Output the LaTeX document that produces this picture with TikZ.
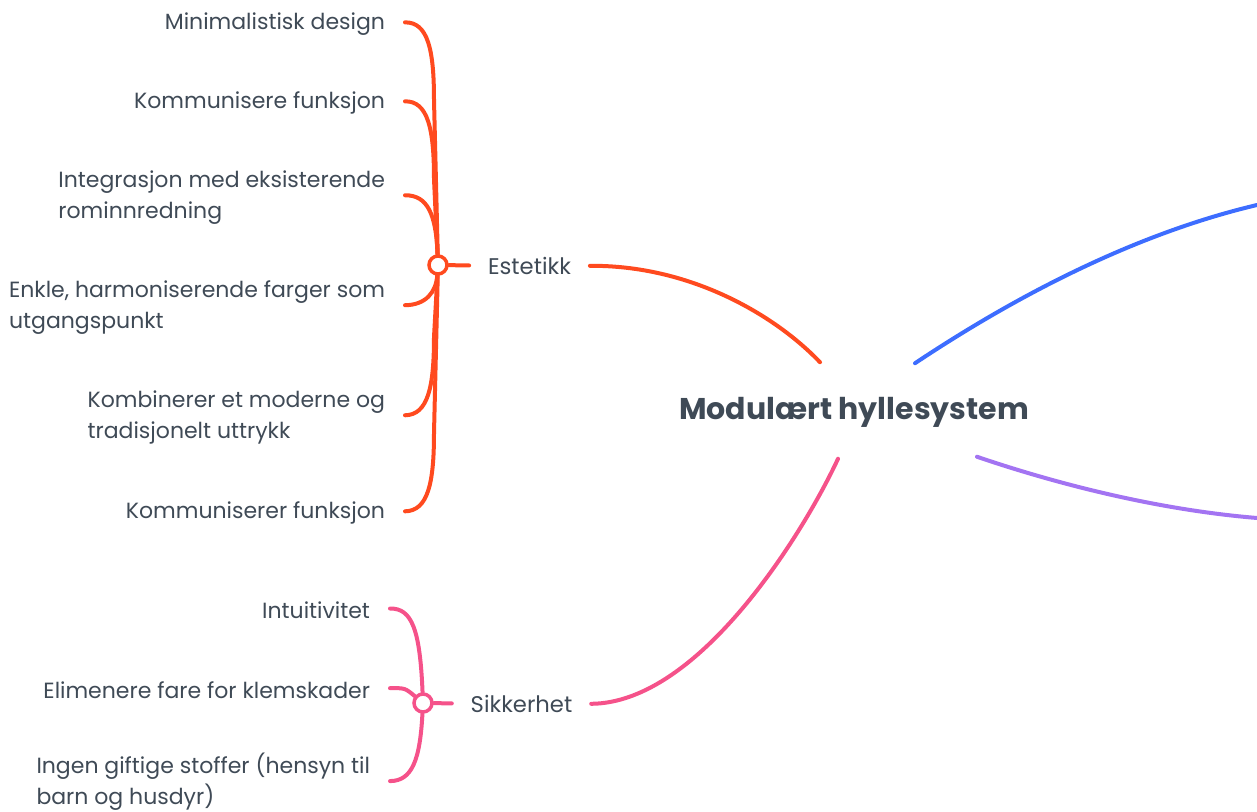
\documentclass[tikz,border=0pt]{standalone}
\usepackage{fontspec}
\setmainfont{Poppins}
\usetikzlibrary{calc}

\definecolor{txt}{HTML}{3F4A56}
\definecolor{cRed}{HTML}{FF4A1F}
\definecolor{cPink}{HTML}{F5528A}
\definecolor{cBlue}{HTML}{3D6DFF}
\definecolor{cPurple}{HTML}{A374F2}

\tikzset{
  leaf/.style={anchor=east, align=left, text=txt, inner xsep=0pt, inner ysep=2pt,
    outer xsep=15pt, yshift=-1.8pt, font=\fontsize{16.5}{23.25}\selectfont},
  branch/.style={text=txt, inner xsep=14pt, inner ysep=2pt, yshift=-1pt,
    font=\fontsize{17}{23.25}\selectfont},
  rootnode/.style={text=txt, inner sep=0pt, minimum height=71.25pt,
    font=\fontsize{22.5}{27}\selectfont\bfseries},
  hub/.style={circle, draw, fill=white, line width=2.6pt, minimum size=13.5pt, inner sep=0pt},
  wire/.style={line width=3pt, line cap=round}
}

\begin{document}
\begin{tikzpicture}[x=0.75pt, y=-0.75pt]
\useasboundingbox (0,0) rectangle (1257,812);

% central topic
\node[rootnode] (root) at (854,412.5) {Modulært hyllesystem};

% ---- Estetikk ----
\node[branch] (est) at (529.5,265) {Estetikk};
\node[hub, draw=cRed] (ej) at (438,265) {};
\node[leaf] (e1) at (405,22)  {Minimalistisk design};
\node[leaf] (e2) at (405,101) {Kommunisere funksjon};
\node[leaf] (e3) at (405,195) {Integrasjon med eksisterende\\rominnredning};
\node[leaf] (e4) at (405,305) {Enkle, harmoniserende farger som\\utgangspunkt};
\node[leaf] (e5) at (405,415) {Kombinerer et moderne og\\tradisjonelt uttrykk};
\node[leaf] (e6) at (405,511) {Kommuniserer funksjon};

\begin{scope}[wire, draw=cRed]
  \draw (e1) .. controls (428,22)  and (434,50)  .. (434,100) -- (ej);
  \draw (e2) .. controls (428,101) and (434,129) .. (434,179) -- (ej);
  \draw (e3) .. controls (428,195) and (436,215) .. (ej);
  \draw (e4) .. controls (426,305) and (436,292) .. (ej);
  \draw (e5) .. controls (428,415) and (434,387) .. (434,337) -- (ej);
  \draw (e6) .. controls (428,511) and (434,483) .. (434,433) -- (ej);
  \draw (ej) -- (est);
  \draw (est) .. controls (690,265) and (775,315) .. ($(root.north)+(-34,-2.5)$);
\end{scope}

% ---- Sikkerhet ----
\node[branch] (sik) at (521.5,703) {Sikkerhet};
\node[hub, draw=cPink] (pj) at (423,703) {};
\node[leaf] (p1) at (390,608) {Intuitivitet};
\node[leaf] (p2) at (390,688) {Elimenere fare for klemskader};
\node[leaf] (p3) at (390,779.5) {Ingen giftige stoffer (hensyn til\\barn og husdyr)};

\begin{scope}[wire, draw=cPink]
  \draw (p1) .. controls (412,608) and (420,630) .. (pj);
  \draw (p2) .. controls (405,688) .. (pj);
  \draw (p3) .. controls (412,781) and (420,760) .. (pj);
  \draw (pj) -- (sik);
  \draw (sik) .. controls (700,703) and (805,530) .. ($(root.south)+(-16,-1.5)$);
\end{scope}

% ---- branches leaving to the right ----
\coordinate (blueEnd) at (1257,205);
\coordinate (purpleEnd) at (1257,518);
\draw[wire, cBlue] ($(root.north)+(61,-1.5)$) .. controls (1010,300) and (1130,235) .. (blueEnd);
\draw[wire, cPurple] ($(root.south)+(123,-3.5)$) .. controls (1060,485) and (1160,510) .. (purpleEnd);
\end{tikzpicture}
\end{document}
